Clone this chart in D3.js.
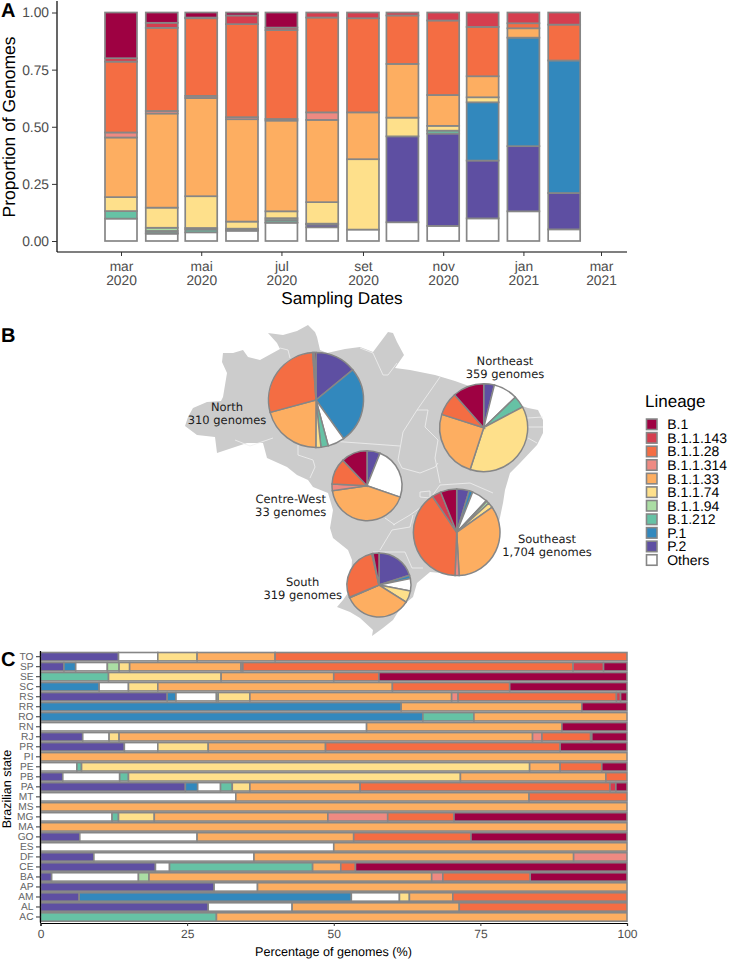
<!DOCTYPE html>
<html>
<head>
<meta charset="utf-8">
<script src="https://cdn.jsdelivr.net/npm/d3@7"></script>
<style>
  body { margin: 0; background: #fff; }
  svg { display: block; }
  text { font-family: "Liberation Sans", Arial, sans-serif; text-rendering: geometricPrecision; }
</style>
</head>
<body>
<script>
var lineages = ["B.1", "B.1.1.143", "B.1.1.28", "B.1.1.314", "B.1.1.33", "B.1.1.74", "B.1.1.94", "B.1.212", "P.1", "P.2", "Others"];
var lineageColors = ["#9E0142", "#D53E4F", "#F46D43", "#EE8A82", "#FDAE61", "#FEE08B", "#ABDDA4", "#66C2A5", "#3288BD", "#5E4FA2", "#FFFFFF"];

// panel A, one list per lineage, mar 2020 -> feb 2021
var months = ["2020-03", "2020-04", "2020-05", "2020-06", "2020-07", "2020-08", "2020-09", "2020-10", "2020-11", "2020-12", "2021-01", "2021-02"];
var monthB1    = [.200, .045, .022, .013, .066, 0, 0, 0, 0, 0, 0, 0];
var month143   = [.015, .022, .003, .038, .011, .022, .025, .013, .035, .063, .047, .053];
var month28    = [.310, .364, .340, .407, .389, .415, .412, .212, .326, .216, .022, .157];
var month314   = [.022, .011, .009, .009, .007, .033, 0, 0, 0, 0, 0, 0];
var month33    = [.261, .412, .430, .448, .397, .360, .205, .235, .135, .092, .041, 0];
var month74    = [.061, .088, .139, .031, .030, .094, .308, .082, .021, .022, 0, 0];
var month94    = [0, .014, .007, .004, .008, .002, 0, 0, 0, 0, 0, 0];
var month212   = [.033, .009, .012, .003, .010, .002, 0, 0, .013, 0, 0, 0];
var monthP1    = [0, 0, 0, 0, 0, 0, 0, 0, 0, .255, .475, .580];
var monthP2    = [0, .003, 0, .002, .002, .012, 0, .376, .404, .253, .285, .159];
var monthOther = [.098, .032, .038, .045, .080, .060, .050, .082, .066, .099, .130, .051];

var xTickDates = ["2020-03", "2020-05", "2020-07", "2020-09", "2020-11", "2021-01", "2021-03"];
var xTickMonths = ["mar", "mai", "jul", "set", "nov", "jan", "mar"];
var xTickYears = ["2020", "2020", "2020", "2020", "2020", "2021", "2021"];

// panel B, values in the same order as lineages
var regions = ["North", "Centre-West", "South", "Northeast", "Southeast"];
var regionGenomes = ["310 genomes", "33 genomes", "319 genomes", "359 genomes", "1,704 genomes"];
var pieNorth     = [.6, .5, 28, 0, 20.7, 1.7, 0, 2.5, 26, 14, 5.7];
var pieCentre    = [12.12, 0, 12.12, 3.03, 42.42, 0, 0, 0, 0, 6.06, 24.24];
var pieSouth     = [3, .6, 27.5, .3, 34.3, 5.9, 0, 0, 1.7, 20, 6.2];
var pieNortheast = [11.5, 0, 8.6, 0, 24.9, 37.8, 0, 4.4, 0, 3.9, 8.9];
var pieSoutheast = [6, 3.4, 39.7, 1.5, 33.7, 1.9, 1, .3, 1.4, 4.6, 5.9];

// panel C, one list per lineage, top row to bottom row
var states = ["TO","SP","SE","SC","RS","RR","RO","RN","RJ","PR","PI","PE","PB","PA","MT","MS","MG","MA","GO","ES","DF","CE","BA","AP","AM","AL","AC"];
var stateP2    = [13.3,4,0,0,21.6,0,0,0,7.2,14.3,0,0,3.8,24.7,0,0,0,0,6.7,0,9.1,19.6,1.9,29.6,6.6,28.6,0];
var stateP1    = [0,2,0,10,1.5,61.5,65.2,0,0,0,0,0,0,2.1,0,0,0,0,0,0,0,0,0,0,46.4,0,0];
var stateOther = [6.7,5.4,0,5,6.9,0,0,55.6,4.5,5.7,0,6.2,9.7,3.9,33.3,0,12.2,0,20,50,27.3,2.4,14.8,7.4,8.2,14.3,0];
var state212   = [0,0,11.6,0,0,0,8.7,0,0,0,0,.8,1.5,2,0,0,1.1,0,0,0,0,24.4,0,0,0,0,30];
var state94    = [0,2,0,0,.3,0,0,0,0,0,0,0,0,0,0,0,0,0,0,0,0,0,1.8,0,0,0,0];
var state74    = [6.7,1.8,19.2,5,5.4,0,0,0,1.7,8.6,0,76.4,56.6,3,0,0,6.1,0,0,0,0,0,0,0,1.7,0,0];
var state33    = [13.3,19,19.2,40,34.4,30.8,26.1,33.3,70.5,20,100,5.2,24.8,18.8,50,100,29.6,100,26.7,50,54.5,4.8,48.2,63,7.4,28.5,70];
var state314   = [0,.3,0,0,1.1,0,0,0,1.6,0,0,0,0,0,0,0,10.2,0,0,0,9.1,0,1.9,0,0,0,0];
var state28    = [60,56.3,7.7,20,27,0,0,0,8.3,40,0,7.1,3.6,42.6,16.7,0,11.3,0,20,0,0,2.5,14.9,0,29.7,28.6,0];
var state143   = [0,5.2,0,0,.7,0,0,0,.2,0,0,0,0,1,0,0,0,0,0,0,0,0,0,0,0,0,0];
var stateB1    = [0,4,42.3,20,1.1,7.7,0,11.1,6,11.4,0,4.3,0,1.9,0,0,29.5,0,26.6,0,0,46.3,16.5,0,0,0,0];

// map background, traced by hand
var brazilOutline = [[185,426],[188,417],[193,408],[207,402],[221,401],[223,397],[227,373],[222,362],[223,353],[233,353],[243,350],[248,357],[260,360],[280,349],[277,343],[268,333],[283,335],[297,331],[308,325],[315,332],[317,337],[320,350],[327,353],[345,349],[360,347],[373,352],[388,332],[393,333],[397,342],[404,355],[395,368],[410,370],[435,375],[455,381],[480,390],[510,402],[528,408],[538,410],[543,420],[543,433],[537,445],[520,463],[510,473],[505,490],[503,503],[498,527],[493,553],[463,575],[430,572],[417,583],[413,597],[407,602],[398,612],[393,620],[383,628],[372,636],[373,630],[360,618],[350,612],[337,607],[343,600],[350,590],[352,560],[348,550],[333,538],[330,528],[333,510],[328,493],[313,487],[308,480],[297,475],[287,467],[267,458],[263,443],[247,443],[217,453],[215,437],[197,435]];
var stateBorders = [
  [[235,440],[250,446],[273,438]],
  [[298,445],[298,455],[313,460],[315,467],[310,478]],
  [[317,440],[400,446]],
  [[398,460],[403,432],[417,410],[440,377]],
  [[417,410],[428,410],[425,427],[438,440],[435,458],[440,483]],
  [[398,460],[402,468],[420,473],[435,467],[438,463]],
  [[440,485],[470,483],[493,493]],
  [[420,492],[430,491],[430,498],[420,497],[420,492]],
  [[393,525],[410,515],[427,503],[440,485]],
  [[380,550],[392,530],[410,527],[413,515]],
  [[385,518],[395,525]],
  [[373,552],[405,552],[412,568],[423,568]],
  [[360,348],[373,353],[383,375],[388,375],[397,363]],
  [[280,348],[288,350],[290,358]],
  [[527,418],[543,417]],
  [[527,427],[543,427]],
  [[528,438],[537,443]]
];

var width = 729, height = 960;
var grayStroke = "#868686", axisText = "#4D4D4D";
var stackA = ["Others", "P.2", "P.1", "B.1.212", "B.1.1.94", "B.1.1.74", "B.1.1.33", "B.1.1.314", "B.1.1.28", "B.1.1.143", "B.1"];
var stackC = ["P.2", "P.1", "Others", "B.1.212", "B.1.1.94", "B.1.1.74", "B.1.1.33", "B.1.1.314", "B.1.1.28", "B.1.1.143", "B.1"];

var color = d3.scaleOrdinal().domain(lineages).range(lineageColors);
var parseMonth = d3.utcParse("%Y-%m");

var svg = d3.select("body").append("svg")
  .attr("width", width)
  .attr("height", height);

function panelLetter(txt, x, y) {
  svg.append("text").attr("x", x).attr("y", y)
    .attr("font-size", 20).attr("font-weight", "bold").attr("fill", "#000")
    .text(txt);
}
function styleAxis(g, fontSize) {
  g.select(".domain").attr("stroke", "#000").attr("stroke-width", 1.2);
  g.selectAll(".tick line").attr("stroke", "#333");
  g.selectAll(".tick text").attr("fill", axisText).attr("font-size", fontSize)
    .attr("font-family", '"Liberation Sans", Arial, sans-serif');
}

// ---- panel A ----
var monthColumns = { "B.1": monthB1, "B.1.1.143": month143, "B.1.1.28": month28, "B.1.1.314": month314, "B.1.1.33": month33, "B.1.1.74": month74, "B.1.1.94": month94, "B.1.212": month212, "P.1": monthP1, "P.2": monthP2, "Others": monthOther };
var monthRows = months.map(function(m, i) {
  var row = { month: parseMonth(m) };
  lineages.forEach(function(l) { row[l] = monthColumns[l][i]; });
  return row;
});

var xA = d3.scaleUtc().domain([parseMonth("2020-03"), parseMonth("2021-03")]).range([121, 601]);
var yA = d3.scaleLinear().domain([0, 1]).range([241, 12.5]);
var barWidth = 32;

var stackedA = d3.stack().keys(stackA)(monthRows);
svg.append("g").selectAll("g").data(stackedA).enter().append("g")
  .attr("fill", function(d) { return color(d.key); })
  .selectAll("rect")
  .data(function(d) { return d.filter(function(s) { return s[1] - s[0] > 0; }); })
  .enter().append("rect")
  .attr("x", function(d) { return xA(d.data.month) - barWidth / 2; })
  .attr("width", barWidth)
  .attr("y", function(d) { return yA(d[1]); })
  .attr("height", function(d) { return yA(d[0]) - yA(d[1]); })
  .attr("stroke", grayStroke)
  .attr("stroke-width", 1.7);

var axisAx = svg.append("g").attr("transform", "translate(0,252)")
  .call(d3.axisBottom(xA).tickValues(xTickDates.map(parseMonth)).tickSize(4).tickFormat(""));
axisAx.select(".domain").attr("d", "M57,0H627");
styleAxis(axisAx, 14);
axisAx.selectAll(".tick").each(function(d, i) {
  var t = d3.select(this).append("text").attr("text-anchor", "middle")
    .attr("fill", axisText).attr("font-size", 13.8)
    .attr("font-family", '"Liberation Sans", Arial, sans-serif');
  t.append("tspan").attr("x", 0).attr("y", 18.5).text(xTickMonths[i]);
  t.append("tspan").attr("x", 0).attr("y", 33).text(xTickYears[i]);
});

var axisAy = svg.append("g").attr("transform", "translate(57,0)")
  .call(d3.axisLeft(yA).tickValues([0, .25, .5, .75, 1]).tickSize(5).tickPadding(3).tickFormat(d3.format(".2f")));
axisAy.select(".domain").attr("d", "M0,1V252");
styleAxis(axisAy, 13.8);

svg.append("text").attr("transform", "translate(14.5,127) rotate(-90)")
  .attr("text-anchor", "middle").attr("font-size", 17.5).text("Proportion of Genomes");
svg.append("text").attr("x", 342).attr("y", 304)
  .attr("text-anchor", "middle").attr("font-size", 17.2).text("Sampling Dates");
panelLetter("A", 1, 16.6);

// ---- panel B ----
var traced = d3.line();
svg.append("path").attr("d", traced(brazilOutline) + "Z").attr("fill", "#CCCCCC");
svg.append("g").selectAll("path").data(stateBorders).enter().append("path")
  .attr("d", traced).attr("fill", "none").attr("stroke", "#F0F0F0").attr("stroke-width", .8);

// pie placement on the map
var pieValues = [pieNorth, pieCentre, pieSouth, pieNortheast, pieSoutheast];
var pieCx = [316, 367, 379, 483.7, 456.7];
var pieCy = [400, 485.7, 585, 427.7, 532.3];
var pieR = [47.5, 35, 32, 44, 43.3];
var labelX = [227, 290.7, 302.7, 505, 547];
var labelY = [411, 503, 585.5, 365, 543];

var pie = d3.pie().sort(null).value(function(d) { return d.value; });
regions.forEach(function(region, i) {
  var slices = stackC.map(function(l) {
    return { key: l, value: pieValues[i][lineages.indexOf(l)] };
  }).filter(function(d) { return d.value > 0; });
  var arc = d3.arc().innerRadius(0).outerRadius(pieR[i]);
  svg.append("g").attr("transform", "translate(" + pieCx[i] + "," + pieCy[i] + ")")
    .selectAll("path").data(pie(slices)).enter().append("path")
    .attr("d", arc)
    .attr("fill", function(d) { return color(d.data.key); })
    .attr("stroke", grayStroke)
    .attr("stroke-width", 1.5);
  var lab = svg.append("text").attr("text-anchor", "middle")
    .attr("font-size", 11.5).attr("fill", "#1a1a1a")
    .style("font-family", '"DejaVu Sans", sans-serif');
  lab.append("tspan").attr("x", labelX[i]).attr("y", labelY[i]).text(region);
  lab.append("tspan").attr("x", labelX[i]).attr("y", labelY[i] + 13).text(regionGenomes[i]);
});

panelLetter("B", 1, 342);

// legend
svg.append("text").attr("x", 645).attr("y", 407).attr("font-size", 17).text("Lineage");
var yLegend = d3.scalePoint().domain(lineages).range([424.3, 560]);
var legend = svg.append("g").selectAll("g").data(lineages).enter().append("g")
  .attr("transform", function(d) { return "translate(645.7," + yLegend(d) + ")"; });
legend.append("rect").attr("x", .8).attr("y", -5.25).attr("width", 10.5).attr("height", 10.5)
  .attr("fill", function(d) { return color(d); })
  .attr("stroke", grayStroke).attr("stroke-width", 1.6);
legend.append("text").attr("x", 21.5).attr("y", 5).attr("font-size", 14)
  .text(function(d) { return d; });

// ---- panel C ----
var stateColumns = { "B.1": stateB1, "B.1.1.143": state143, "B.1.1.28": state28, "B.1.1.314": state314, "B.1.1.33": state33, "B.1.1.74": state74, "B.1.1.94": state94, "B.1.212": state212, "P.1": stateP1, "P.2": stateP2, "Others": stateOther };
var stateRows = states.map(function(s, i) {
  var row = { state: s };
  lineages.forEach(function(l) { row[l] = stateColumns[l][i]; });
  return row;
});

var xC = d3.scaleLinear().domain([0, 100]).range([40.5, 627]);
var yC = d3.scaleBand().domain(states).range([651.7, 922]).paddingInner(.16).paddingOuter(.08);

var stackedC = d3.stack().keys(stackC)(stateRows);
svg.append("g").selectAll("g").data(stackedC).enter().append("g")
  .attr("fill", function(d) { return color(d.key); })
  .selectAll("rect")
  .data(function(d) { return d.filter(function(s) { return s[1] - s[0] > 0; }); })
  .enter().append("rect")
  .attr("x", function(d) { return xC(d[0]); })
  .attr("width", function(d) { return xC(d[1]) - xC(d[0]); })
  .attr("y", function(d) { return yC(d.data.state); })
  .attr("height", yC.bandwidth())
  .attr("stroke", grayStroke)
  .attr("stroke-width", 1.6);

var axisCx = svg.append("g").attr("transform", "translate(0,923)")
  .call(d3.axisBottom(xC).tickValues([0, 25, 50, 75, 100]).tickSize(3).tickPadding(3));
styleAxis(axisCx, 12);
var axisCy = svg.append("g").attr("transform", "translate(40.5,0)")
  .call(d3.axisLeft(yC).tickSize(4.5).tickPadding(2.5));
axisCy.select(".domain").attr("d", "M0,651V923");
styleAxis(axisCy, 10.2);
axisCy.selectAll(".tick text").attr("fill", "#666");

svg.append("text").attr("transform", "translate(11,789) rotate(-90)")
  .attr("text-anchor", "middle").attr("font-size", 12.5).text("Brazilian state");
svg.append("text").attr("x", 333.5).attr("y", 955.5)
  .attr("text-anchor", "middle").attr("font-size", 12.6).text("Percentage of genomes (%)");
panelLetter("C", 1, 665.5);
</script>
</body>
</html>
